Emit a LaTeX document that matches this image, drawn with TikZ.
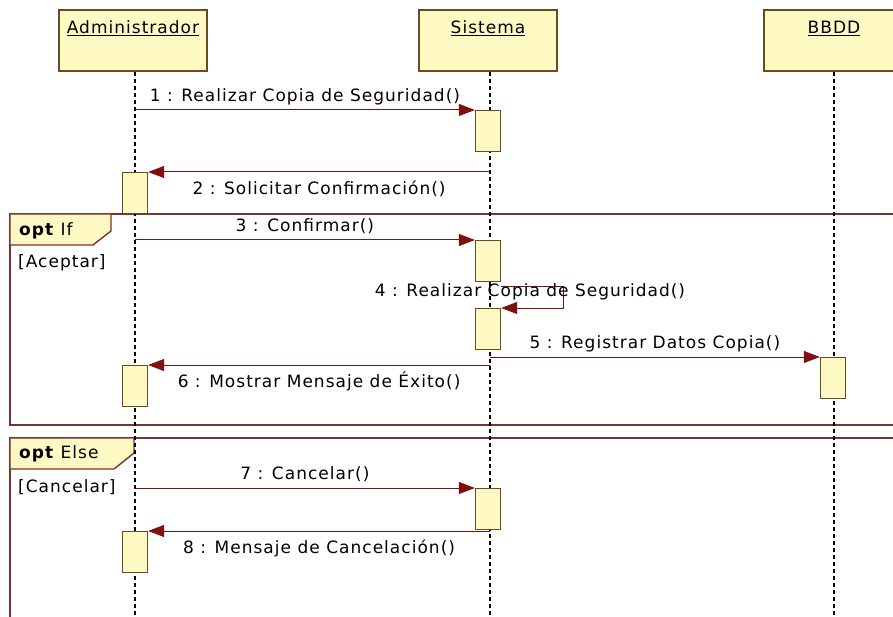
\documentclass[tikz,border=0pt]{standalone}
\usepackage{fontspec}
\setmainfont{DejaVu Sans}[LetterSpace=6]
\usetikzlibrary{arrows.meta,positioning}
\definecolor{umlfill}{RGB}{255,249,196}
\definecolor{umlline}{RGB}{110,72,30}
\definecolor{msgred}{RGB}{128,16,16}
\definecolor{framered}{RGB}{125,50,50}
\tikzset{
  actorbox/.style={draw=umlline, fill=umlfill, line width=1.8pt, anchor=north,
    minimum width=#1, text height=14pt, text depth=27pt, inner ysep=10pt, font=\fontsize{17}{19}\selectfont},
  actbar/.style={draw=umlline, fill=umlfill, line width=1.3pt, anchor=north, minimum width=25pt, minimum height=41pt, inner sep=0pt},
  lifeline/.style={line width=1.8pt, dash pattern=on 4pt off 3pt},
  msgarrow/.style={-{Triangle[length=16pt,width=12pt]}, draw=msgred, line width=1pt},
  msglabel/.style={font=\fontsize{17}{19}\selectfont, inner sep=0pt, text height=12pt, text depth=4pt},
  msgabove/.style={msglabel, above=4pt},
  msgbelow/.style={msglabel, below=10pt},
  framebox/.style={draw=framered, line width=1.6pt},
  tagbox/.style={draw=framered, fill=umlfill, line width=1.4pt},
  taglabel/.style={font=\fontsize{17}{19}\selectfont, anchor=west, inner sep=0pt}
}
\begin{document}
\begin{tikzpicture}[x=1pt, y=-1pt]
  \useasboundingbox (0,0) rectangle (893,617);
  \clip (0,0) rectangle (893,617);

  % combined fragments
  \draw[framebox] (10,214) rectangle (900,425);
  \draw[tagbox] (10,214) -- (111,214) -- (111,231) -- (93,245) -- (10,245) -- cycle;
  \node[taglabel] (optif) at (19,231) {\textbf{opt} If};
  \node[taglabel] (aceptar) at (18,263) {[Aceptar]};
  \draw[framebox] (10,438) rectangle (900,640);
  \draw[tagbox] (10,438) -- (134,438) -- (134,453) -- (114,469) -- (10,469) -- cycle;
  \node[taglabel] (optelse) at (19,454) {\textbf{opt} Else};
  \node[taglabel] (cancelar) at (18,487) {[Cancelar]};

  % lifelines
  \node[actorbox=148pt] (admin) at (133,9) {\underline{Administrador}};
  \node[actorbox=138pt] (sys) at (488,9) {\underline{Sistema}};
  \node[actorbox=140pt] (bbdd) at (834,9) {\underline{BBDD}};
  \coordinate (adminend) at (135,617);
  \coordinate (sysend) at (490,617);
  \coordinate (bbddend) at (834,617);
  \draw[lifeline] (admin.south -| adminend) -- (adminend);
  \draw[lifeline] (sys.south -| sysend) -- (sysend);
  \draw[lifeline] (bbdd.south) -- (bbddend);

  % activations
  \node[actbar] (s1) at (488,110) {};
  \node[actbar] (a1) at (135,172) {};
  \node[actbar] (s2) at (488,240) {};
  \node[actbar] (s3) at (488,308) {};
  \node[actbar] (b1) at (833,357) {};
  \node[actbar] (a2) at (135,365) {};
  \node[actbar] (s4) at (488,488) {};
  \node[actbar] (a3) at (135,531) {};

  % messages
  \draw[msgarrow] (adminend |- s1.north) -- node[msgabove] {1 : Realizar Copia de Seguridad()} (s1.north west);
  \draw[msgarrow] (sysend |- a1.north) -- node[msgbelow] {2 : Solicitar Confirmación()} (a1.north east);
  \draw[msgarrow] (adminend |- s2.north) -- node[msgabove] {3 : Confirmar()} (s2.north west);
  \draw[msgarrow] ([yshift=-4pt]s2.south east) -- ++(62,0) |- (s3.north east);
  \node[msglabel] (selflabel) at (530,293) {4 : Realizar Copia de Seguridad()};
  \draw[msgarrow] (sysend |- b1.north) -- node[msgabove] {5 : Registrar Datos Copia()} (b1.north west);
  \draw[msgarrow] (sysend |- a2.north) -- node[msgbelow] {6 : Mostrar Mensaje de Éxito()} (a2.north east);
  \draw[msgarrow] (adminend |- s4.north) -- node[msgabove] {7 : Cancelar()} (s4.north west);
  \draw[msgarrow] (sysend |- a3.north) -- node[msgbelow] {8 : Mensaje de Cancelación()} (a3.north east);
\end{tikzpicture}
\end{document}
